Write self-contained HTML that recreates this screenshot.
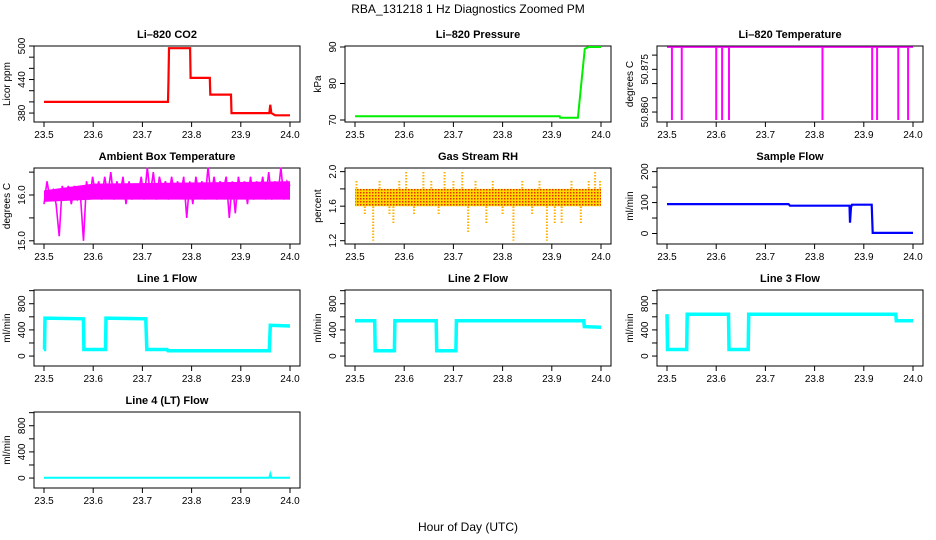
<!DOCTYPE html>
<html><head><meta charset="utf-8"><style>
html,body{margin:0;padding:0;background:#fff;}
svg{display:block;font-family:"Liberation Sans",sans-serif;}
</style></head><body>
<svg id="chart" width="936" height="540" viewBox="0 0 936 540">
<defs>
<pattern id="rhpat" width="3" height="3" patternUnits="userSpaceOnUse">
<rect width="3" height="3" fill="#ffd800"/><rect x="0" y="0" width="1.5" height="1.5" fill="#e83000"/>
</pattern>
</defs>
<text x="468" y="13" text-anchor="middle" font-size="12">RBA_131218  1 Hz Diagnostics Zoomed PM</text>
<text x="468" y="531" text-anchor="middle" font-size="12">Hour of Day (UTC)</text>
</svg>
<script>
// ---- data ----
const xTicks = [23.5, 23.6, 23.7, 23.8, 23.9, 24.0];
const xTickLabels = ["23.5", "23.6", "23.7", "23.8", "23.9", "24.0"];

const co2T = [23.5,23.752,23.753,23.754,23.797,23.798,23.837,23.838,23.880,23.881,23.958,23.96,23.962,23.97,24.0];
const co2V = [400,400,440,496,496,443,443,413,413,380,380,395,380,376,376];
const co2Ticks = [380,400,420,440,460,480,500];
const co2Labels = ["380","","","440","","","500"];

const presT = [23.5,23.916,23.917,23.953,23.96,23.967,23.975,24.0];
const presV = [71,71,70.6,70.6,80,89.5,90,90];
const presTicks = [70,80,90];

const tempBaseT = [23.5,24.0];
const tempBaseV = [50.8828,50.8828];
const tempSpikeT = [23.51,23.53,23.60,23.612,23.626,23.816,23.917,23.927,23.97,23.99];
const tempSpikeV = [50.8572,50.8572,50.8572,50.8572,50.8572,50.8572,50.8572,50.8572,50.8572,50.8572];
const tempTicks = [50.860,50.865,50.870,50.875,50.880];
const tempLabels = ["50.860","","","50.875",""];

const ambV = [15.8,16.3,15.9,16.1,15.8,15.1,16.2,15.9,16.2,15.8,16.2,15.9,16.0,15.0,16.3,15.9,16.4,16.0,16.3,15.9,16.4,16.0,16.5,15.9,16.3,16.0,16.4,15.8,16.3,15.9,16.2,16.0,16.4,15.9,16.6,16.0,16.5,15.9,16.4,16.1,16.3,15.9,16.4,16.0,16.3,16.0,16.4,15.5,16.3,15.8,16.4,16.0,16.3,15.9,16.6,16.0,16.4,15.9,16.3,16.1,16.4,15.5,16.3,15.6,16.4,16.0,16.3,15.8,16.4,15.9,16.3,16.0,16.4,15.9,16.5,15.9,16.3,16.0,16.6,15.9,16.3,16.2];
const ambBandT = [23.5,23.6,24.0];
const ambBandLo = [15.85,15.9,15.9];
const ambBandHi = [16.1,16.25,16.3];
const ambTicks = [15.0,15.5,16.0,16.5];
const ambLabels = ["15.0","","16.0",""];

const rhBandT = [23.5,24.0];
const rhBandLo = [1.6,1.6];
const rhBandHi = [1.8,1.8];
const rhSpikeT = [23.503,23.52,23.537,23.55,23.57,23.578,23.59,23.604,23.62,23.639,23.655,23.67,23.682,23.70,23.718,23.73,23.745,23.767,23.78,23.80,23.822,23.84,23.86,23.875,23.89,23.906,23.92,23.94,23.959,23.975,23.988,23.998];
const rhSpikeV = [1.9,1.5,1.2,1.9,1.5,1.4,1.9,2.0,1.5,2.0,1.9,1.5,2.0,1.9,2.0,1.3,1.9,1.4,1.9,1.5,1.2,1.9,1.5,1.9,1.2,1.4,1.4,1.9,1.4,1.9,2.0,1.9];
const rhTicks = [1.2,1.4,1.6,1.8,2.0];
const rhLabels = ["1.2","","1.6","","2.0"];

const sampT = [23.5,23.747,23.75,23.871,23.872,23.874,23.876,23.916,23.918,24.0];
const sampV = [95,95,90,90,35,85,93,93,2,2];
const sampTicks = [0,50,100,150,200];
const sampLabels = ["0","","100","","200"];

const l1T = [23.5,23.501,23.502,23.58,23.581,23.625,23.626,23.707,23.709,23.75,23.752,23.958,23.96,24.0];
const l1V = [100,100,580,570,100,100,580,570,100,100,80,80,470,460];
const l2T = [23.5,23.54,23.541,23.58,23.581,23.665,23.666,23.705,23.706,23.965,23.966,24.0];
const l2V = [540,540,80,80,540,540,80,80,540,540,450,440];
const l3T = [23.5,23.501,23.503,23.54,23.541,23.625,23.626,23.665,23.666,23.965,23.966,24.0];
const l3V = [640,100,100,100,640,640,100,100,640,640,540,540];
const l4T = [23.5,23.958,23.96,23.962,24.0];
const l4V = [5,5,60,5,5];
const flowTicks = [0,200,400,600,800,1000];
const flowLabels = ["0","","400","","800",""];

// ---- layout ----
const NS = "http://www.w3.org/2000/svg";
const svg = document.getElementById("chart");
const colLeft = [34, 345, 657];
const rowTop = [46, 168, 290, 412];
const W = 266, H = 76;
function mk(tag, attrs, parent){ const e=document.createElementNS(NS,tag); for(const k in attrs) e.setAttribute(k,attrs[k]); (parent||svg).appendChild(e); return e; }

function panel(name, title, ytitle, col, row, ymin, ymax, ticks, labels){
  const g = mk("g", {});
  
  
  const L = colLeft[col], T = rowTop[row];
  const xs = t => L + 10 + (t - 23.5) * 492;
  const ys = v => T + H - (v - ymin) / (ymax - ymin) * H;
  const box = mk("rect", {x:L, y:T, width:W, height:H, fill:"none", stroke:"#000", "stroke-width":1}, g);
  
  
  const tt = mk("text", {x:L+W/2, y:T-8, "text-anchor":"middle", "font-size":11, "font-weight":"bold"}, g);
  tt.textContent = title;
  
  
  const xa = mk("g", {}, g);
  
  
  xTicks.forEach((t,i)=>{
    mk("line",{x1:xs(t),x2:xs(t),y1:T+H,y2:T+H+5,stroke:"#000"},xa);
    const lb = mk("text",{x:xs(t),y:T+H+16,"text-anchor":"middle","font-size":10},xa);
    lb.textContent = xTickLabels[i];
  });
  const ya = mk("g", {}, g);
  
  
  ticks.forEach((v,i)=>{
    mk("line",{x1:L-5,x2:L,y1:ys(v),y2:ys(v),stroke:"#000"},ya);
    if(labels[i]){
      const lb = mk("text",{x:L-9,y:ys(v),"text-anchor":"middle","font-size":10,transform:`rotate(-90 ${L-9} ${ys(v)})`},ya);
      lb.textContent = labels[i];
    }
  });
  const yt = mk("text",{x:L-24,y:T+H/2,"text-anchor":"middle","font-size":10,transform:`rotate(-90 ${L-24} ${T+H/2})`},g);
  yt.textContent = ytitle;
  
  
  return {g, xs, ys};
}
function line(p, T, V, color, w, name){
  const pts = T.map((t,i)=>p.xs(t).toFixed(1)+","+p.ys(V[i]).toFixed(1)).join(" ");
  const pl = mk("polyline",{points:pts,fill:"none",stroke:color,"stroke-width":w,"stroke-linejoin":"miter"},p.g);
  
  
}
function band(p, T, lo, hi, fill, name){
  const top = T.map((t,i)=>p.xs(t).toFixed(1)+","+p.ys(hi[i]).toFixed(1));
  const bot = T.map((t,i)=>p.xs(t).toFixed(1)+","+p.ys(lo[i]).toFixed(1)).reverse();
  const pg = mk("polygon",{points:top.concat(bot).join(" "),fill:fill},p.g);
  
  
}

let p = panel("co2","Li\u2013820 CO2","Licor ppm",0,0,364,500,co2Ticks,co2Labels);
line(p, co2T, co2V, "#ff0000", 2.2, "co2-series");

p = panel("pressure","Li\u2013820 Pressure","kPa",1,0,69.45,90.27,presTicks,["70","80","90"]);
line(p, presT, presV, "#00ee00", 2, "pressure-series");

p = panel("li820-temp","Li\u2013820 Temperature","degrees C",2,0,50.8565,50.8832,tempTicks,tempLabels);
line(p, tempBaseT, tempBaseV, "#ff00ff", 1.5, "li820-temp-series");
tempSpikeT.forEach((t,i)=>{
  const s = mk("line",{x1:p.xs(t),x2:p.xs(t),y1:p.ys(tempBaseV[0]),y2:p.ys(tempSpikeV[i]),stroke:"#ff00ff","stroke-width":2},p.g);
  
  
});

p = panel("ambient-temp","Ambient Box Temperature","degrees C",0,1,14.93,16.59,ambTicks,ambLabels);
band(p, ambBandT, ambBandLo, ambBandHi, "#ff00ff", "ambient-temp-band");
const ambT = ambV.map((v,i)=>23.5 + i*0.5/(ambV.length-1));
line(p, ambT, ambV, "#ff00ff", 1.6, "ambient-temp-series");

p = panel("gas-rh","Gas Stream RH","percent",1,1,1.162,2.042,rhTicks,rhLabels);
rhSpikeT.forEach((t,i)=>{
  const s = mk("line",{x1:p.xs(t),x2:p.xs(t),y1:p.ys(1.7),y2:p.ys(rhSpikeV[i]),stroke:"#ffb000","stroke-width":2,"stroke-dasharray":"1.5 1.5"},p.g);
  
  
});
band(p, rhBandT, rhBandLo, rhBandHi, "url(#rhpat)", "rh-series-band");

p = panel("sample-flow","Sample Flow","ml/min",2,1,-34,211.8,sampTicks,sampLabels);
line(p, sampT, sampV, "#0000ff", 2.2, "sample-flow-series");

const fmin=-152, fmax=1010;
p = panel("line1-flow","Line 1 Flow","ml/min",0,2,fmin,fmax,flowTicks,flowLabels);
line(p, l1T, l1V, "#00ffff", 3.5, "line1-flow-series");
p = panel("line2-flow","Line 2 Flow","ml/min",1,2,fmin,fmax,flowTicks,flowLabels);
line(p, l2T, l2V, "#00ffff", 3.5, "line2-flow-series");
p = panel("line3-flow","Line 3 Flow","ml/min",2,2,fmin,fmax,flowTicks,flowLabels);
line(p, l3T, l3V, "#00ffff", 3.5, "line3-flow-series");
p = panel("line4-flow","Line 4 (LT) Flow","ml/min",0,3,fmin,fmax,flowTicks,flowLabels);
line(p, l4T, l4V, "#00ffff", 2, "line4-flow-series");
</script>
</body></html>
